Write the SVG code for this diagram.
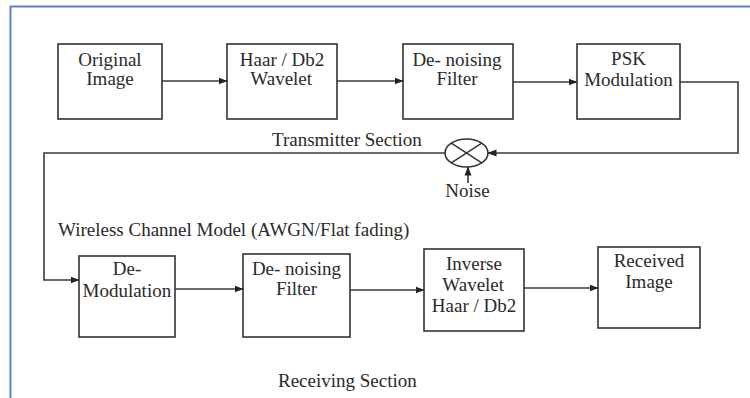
<svg xmlns="http://www.w3.org/2000/svg" width="750" height="398" viewBox="0 0 750 398">
<style>
.box{fill:#fff;stroke:#333;stroke-width:1.6}
.lbl{font-family:'Liberation Serif','Times New Roman',Times,serif;font-size:19px;fill:#2a2a2a}
.c{fill:none;stroke:#3a3a3a;stroke-width:1.6}
</style>
<defs>
<marker id="ah" markerWidth="9" markerHeight="8" refX="8.5" refY="4" orient="auto" markerUnits="userSpaceOnUse">
<path d="M0,0.5 L9,4 L0,7.5 Z" fill="#222"/>
</marker>
</defs>
<rect width="750" height="398" fill="#fff"/>
<g id="frame">
<line x1="10" y1="6.5" x2="750" y2="6.5" stroke="#5683c4" stroke-width="2"/>
<line x1="10.5" y1="6" x2="10.5" y2="398" stroke="#5683c4" stroke-width="2"/>
</g>
<g id="connectors">
<line class="c" x1="162" y1="81" x2="227" y2="81" marker-end="url(#ah)"/>
<line class="c" x1="337" y1="81" x2="403" y2="81" marker-end="url(#ah)"/>
<line class="c" x1="513" y1="82" x2="577" y2="82" marker-end="url(#ah)"/>
<polyline class="c" points="680,82 738,82 738,153 488,153" marker-end="url(#ah)"/>
<line class="c" x1="468" y1="183" x2="468" y2="167" marker-end="url(#ah)"/>
<polyline class="c" points="445,153 44,153 44,280 79,280" marker-end="url(#ah)"/>
<line class="c" x1="175" y1="289" x2="243" y2="289" marker-end="url(#ah)"/>
<line class="c" x1="350" y1="290" x2="424" y2="290" marker-end="url(#ah)"/>
<line class="c" x1="524" y1="288" x2="598" y2="288" marker-end="url(#ah)"/>
</g>
<g id="mixer">
<ellipse cx="466.5" cy="153" rx="21.5" ry="14" fill="#fff" stroke="#333" stroke-width="1.6"/>
<line x1="451.3" y1="143.1" x2="481.7" y2="162.9" stroke="#333" stroke-width="1.4"/>
<line x1="451.3" y1="162.9" x2="481.7" y2="143.1" stroke="#333" stroke-width="1.4"/>
</g>
<g id="original-image" class="lbl">
<rect class="box" x="58" y="44" width="104" height="75"/>
<text x="78.3" y="66">Original</text>
<text x="86.3" y="85">Image</text>
</g>
<g id="haar-wavelet" class="lbl">
<rect class="box" x="227" y="44" width="110" height="75"/>
<text x="239.8" y="66">Haar / Db2</text>
<text x="250.3" y="85">Wavelet</text>
</g>
<g id="denoising-tx" class="lbl">
<rect class="box" x="403" y="44" width="110" height="75"/>
<text x="412.4" y="66">De- noising</text>
<text x="436.4" y="85">Filter</text>
</g>
<g id="psk-modulation" class="lbl">
<rect class="box" x="577" y="44" width="103" height="75"/>
<text x="611.1" y="64.5">PSK</text>
<text x="584.2" y="85.5">Modulation</text>
</g>
<g id="demodulation" class="lbl">
<rect class="box" x="79" y="256" width="96" height="81"/>
<text x="112.8" y="275">De-</text>
<text x="82.5" y="296.5">Modulation</text>
</g>
<g id="denoising-rx" class="lbl">
<rect class="box" x="243" y="254" width="107" height="83"/>
<text x="251.9" y="275">De- noising</text>
<text x="275.9" y="295">Filter</text>
</g>
<g id="inverse-wavelet" class="lbl">
<rect class="box" x="424" y="249" width="100" height="82"/>
<text x="446" y="270">Inverse</text>
<text x="442.3" y="290.5">Wavelet</text>
<text x="431.8" y="311.5">Haar / Db2</text>
</g>
<g id="received-image" class="lbl">
<rect class="box" x="598" y="247" width="102" height="81"/>
<text x="613.7" y="266.5">Received</text>
<text x="625.3" y="288">Image</text>
</g>
<g id="labels" class="lbl">
<text x="272" y="145.5">Transmitter Section</text>
<text x="445.3" y="197">Noise</text>
<text x="58" y="235.5">Wireless Channel Model (AWGN/Flat fading)</text>
<text x="278" y="386.5">Receiving Section</text>
</g>
</svg>
